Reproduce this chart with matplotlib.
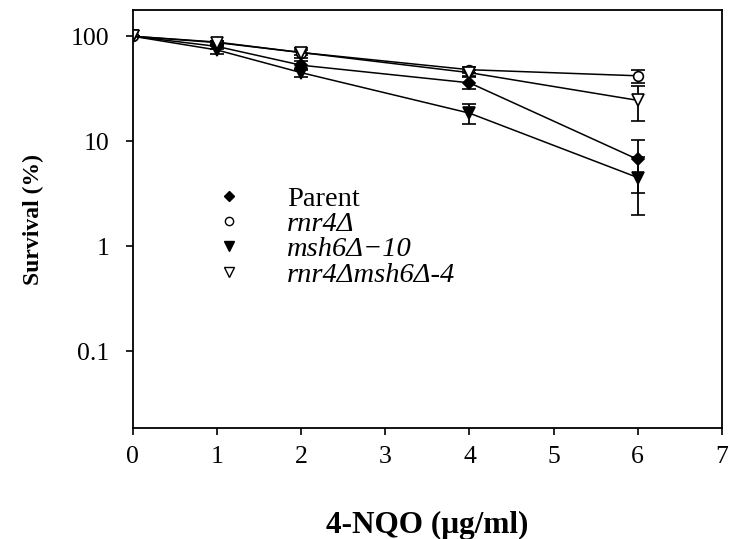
import matplotlib
matplotlib.use("Agg")
import matplotlib.pyplot as plt
from matplotlib.lines import Line2D

plt.rcParams['font.family'] = ['Liberation Serif', 'DejaVu Serif']

dose = [0, 1, 2, 4, 6]
parent = [100, 80, 53, 36, 6.7]
parent_err = [0, 4, 5, 4.5, 3.5]
rnr4 = [100, 88, 70, 48, 42]
rnr4_err = [0, 3, 4, 3, 6]
msh6 = [100, 74, 45, 18.5, 4.5]
msh6_err = [0, 6, 4, 4, 2.5]
double = [100, 87, 70, 45, 24.5]
double_err = [0, 4, 8, 3, 9]

labels = ["Parent", "rnr4\u0394", "msh6\u0394\u221210", "rnr4\u0394msh6\u0394-4"]
xticks = [0, 1, 2, 3, 4, 5, 6, 7]
yticks = [0.1, 1, 10, 100]
yticklabels = ["0.1", "1", "10", "100"]

fig = plt.figure(figsize=(7.3, 5.39), dpi=100)
ax = fig.add_axes([0.182, 0.206, 0.807, 0.775])

series = [
    (parent, parent_err, dict(marker='D', markersize=6, mfc='black', mec='black')),
    (rnr4, rnr4_err, dict(marker='o', markersize=7, mfc='white', mec='black')),
    (msh6, msh6_err, dict(marker='v', markersize=8, mfc='black', mec='black')),
    (double, double_err, dict(marker='v', markersize=8, mfc='white', mec='black')),
]
for vals, err, st in series:
    ax.errorbar(dose, vals, yerr=err, color='black', lw=1.1, elinewidth=1.3,
                capsize=5, capthick=1.3, mew=1.2, **st)

ax.set_yscale('log')
ax.set_xlim(0, 7)
ax.set_ylim(0.0185, 177)
ax.set_xticks(xticks)
ax.set_xticklabels([str(x) for x in xticks])
ax.set_yticks(yticks)
ax.set_yticklabels(yticklabels)
ax.yaxis.set_minor_locator(matplotlib.ticker.NullLocator())
ax.tick_params(axis='both', direction='out', length=5, width=1.2, labelsize=18.5)
ax.tick_params(axis='x', pad=8)
ax.tick_params(axis='y', pad=12)
for s in ax.spines.values():
    s.set_linewidth(1.3)

ax.set_xlabel("4-NQO (\u03bcg/ml)", fontsize=22.5, fontweight='bold', labelpad=31)
ax.set_ylabel("Survival (%)", fontsize=17, fontweight='bold', labelpad=19)

handles = []
for vals, err, st in series:
    st2 = dict(st)
    st2['markersize'] = st2['markersize'] * 0.85
    handles.append(Line2D([], [], linestyle='none', color='black', **st2))
leg = ax.legend(handles, labels, loc='upper left', bbox_to_anchor=(0.1145, 0.6125),
                frameon=False, fontsize=20.5, handletextpad=1.55, labelspacing=-0.03,
                handlelength=1.0, borderpad=0)
for i, t in enumerate(leg.get_texts()):
    if i > 0:
        t.set_fontstyle('italic')

fig.savefig("out.png", dpi=100)
